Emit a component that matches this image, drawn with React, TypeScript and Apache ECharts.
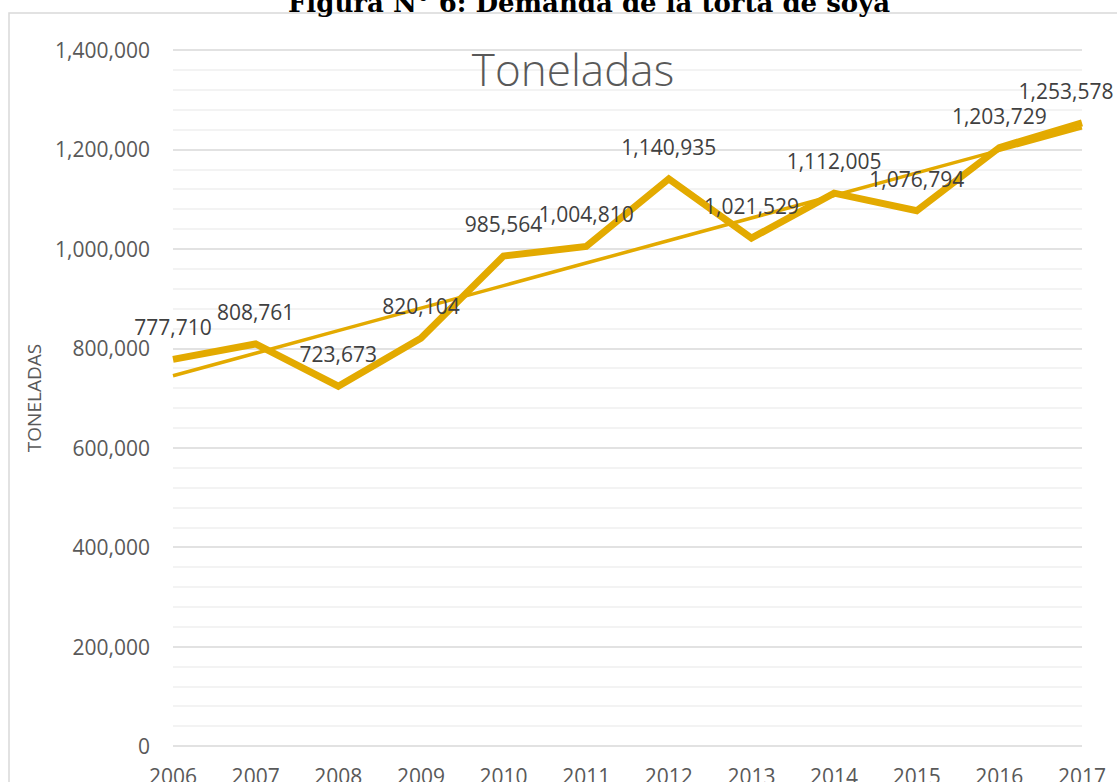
import React, { useEffect, useRef } from "react";
import * as echarts from "echarts";

const years = ["2006", "2007", "2008", "2009", "2010", "2011", "2012", "2013", "2014", "2015", "2016", "2017"];
const toneladas = [777710, 808761, 723673, 820104, 985564, 1004810, 1140935, 1021529, 1112005, 1076794, 1203729, 1253578];
const yTicks = { min: 0, max: 1400000, interval: 200000 };

const GOLD = "#E3AA00";
const FONT = "'Open Sans', sans-serif";

function linearTrend(values: number[]): number[] {
  const n = values.length;
  const xs = values.map((_, i) => i + 1);
  const mx = xs.reduce((a, b) => a + b, 0) / n;
  const my = values.reduce((a, b) => a + b, 0) / n;
  let sxy = 0;
  let sxx = 0;
  for (let i = 0; i < n; i++) {
    sxy += (xs[i] - mx) * (values[i] - my);
    sxx += (xs[i] - mx) * (xs[i] - mx);
  }
  const slope = sxy / sxx;
  return xs.map((x) => my + slope * (x - mx));
}

const fmt = (v: number) => v.toLocaleString("en-US");

export default function App() {
  const ref = useRef<HTMLDivElement>(null);
  useEffect(() => {
    document.body.style.margin = "0";
    const chart = echarts.init(ref.current!, null, { renderer: "svg" });
    const trend = linearTrend(toneladas);
    const lastIndex = toneladas.length - 1;
    chart.setOption({
      animation: false,
      backgroundColor: "#ffffff",
      graphic: [
        {
          type: "rect",
          shape: { x: 9, y: 13, width: 1300, height: 1000 },
          style: { fill: "none", stroke: "#d9d9d9", lineWidth: 1.5 },
          silent: true,
          z: -10,
        },
        {
          type: "text",
          x: 589,
          y: 16,
          style: {
            text: "Figura N° 6: Demanda de la torta de soya",
            font: "bold 26px 'DejaVu Serif', serif",
            fill: "#000000",
            align: "center",
            verticalAlign: "bottom",
          },
        },
      ],
      title: {
        text: "Toneladas",
        left: 568,
        top: 42,
        textAlign: "center",
        textStyle: { fontFamily: FONT, fontSize: 44, fontWeight: 300, color: "#595959" },
      },
      grid: { left: 173, right: 35, top: 50, bottom: 36, containLabel: false, outerBoundsMode: "none" },
      xAxis: {
        type: "category",
        data: years,
        boundaryGap: false,
        axisLine: { show: false },
        axisTick: { show: false },
        axisLabel: { color: "#595959", fontFamily: FONT, fontSize: 21, margin: 19 },
        splitLine: { show: false },
      },
      yAxis: {
        type: "value",
        min: yTicks.min,
        max: yTicks.max,
        interval: yTicks.interval,
        name: "TONELADAS",
        nameLocation: "middle",
        nameGap: 130,
        nameRotate: 90,
        nameTextStyle: { color: "#595959", fontFamily: FONT, fontSize: 19 },
        axisLine: { show: false },
        axisTick: { show: false },
        axisLabel: {
          color: "#595959",
          fontFamily: FONT,
          fontSize: 21,
          margin: 23,
          formatter: (v: number) => fmt(v),
        },
        splitLine: { show: true, lineStyle: { color: "#d9d9d9", width: 1.5 } },
        minorTick: { show: false, splitNumber: 5 },
        minorSplitLine: { show: true, lineStyle: { color: "#efefef", width: 1.5 } },
      },
      series: [
        {
          type: "line",
          name: "Toneladas",
          data: toneladas,
          symbol: "circle",
          symbolSize: 1,
          showSymbol: true,
          itemStyle: { color: "rgba(0,0,0,0)", borderWidth: 0 },
          lineStyle: { color: GOLD, width: 7, join: "miter" },
          label: {
            show: true,
            position: "top",
            distance: 21,
            color: "#404040",
            fontFamily: FONT,
            fontSize: 21,
            formatter: (p: any) => fmt(p.value),
          },
          labelLayout: (p: any) => (p.dataIndex === lastIndex ? { dx: -16 } : {}),
          z: 3,
        },
        {
          type: "line",
          name: "Lineal (Toneladas)",
          data: trend,
          symbol: "none",
          lineStyle: { color: GOLD, width: 3.5 },
          z: 2,
        },
      ],
    });
    return () => chart.dispose();
  }, []);
  return <div ref={ref} style={{ position: "fixed", left: 0, top: 0, width: 1117, height: 782 }} />;
}
